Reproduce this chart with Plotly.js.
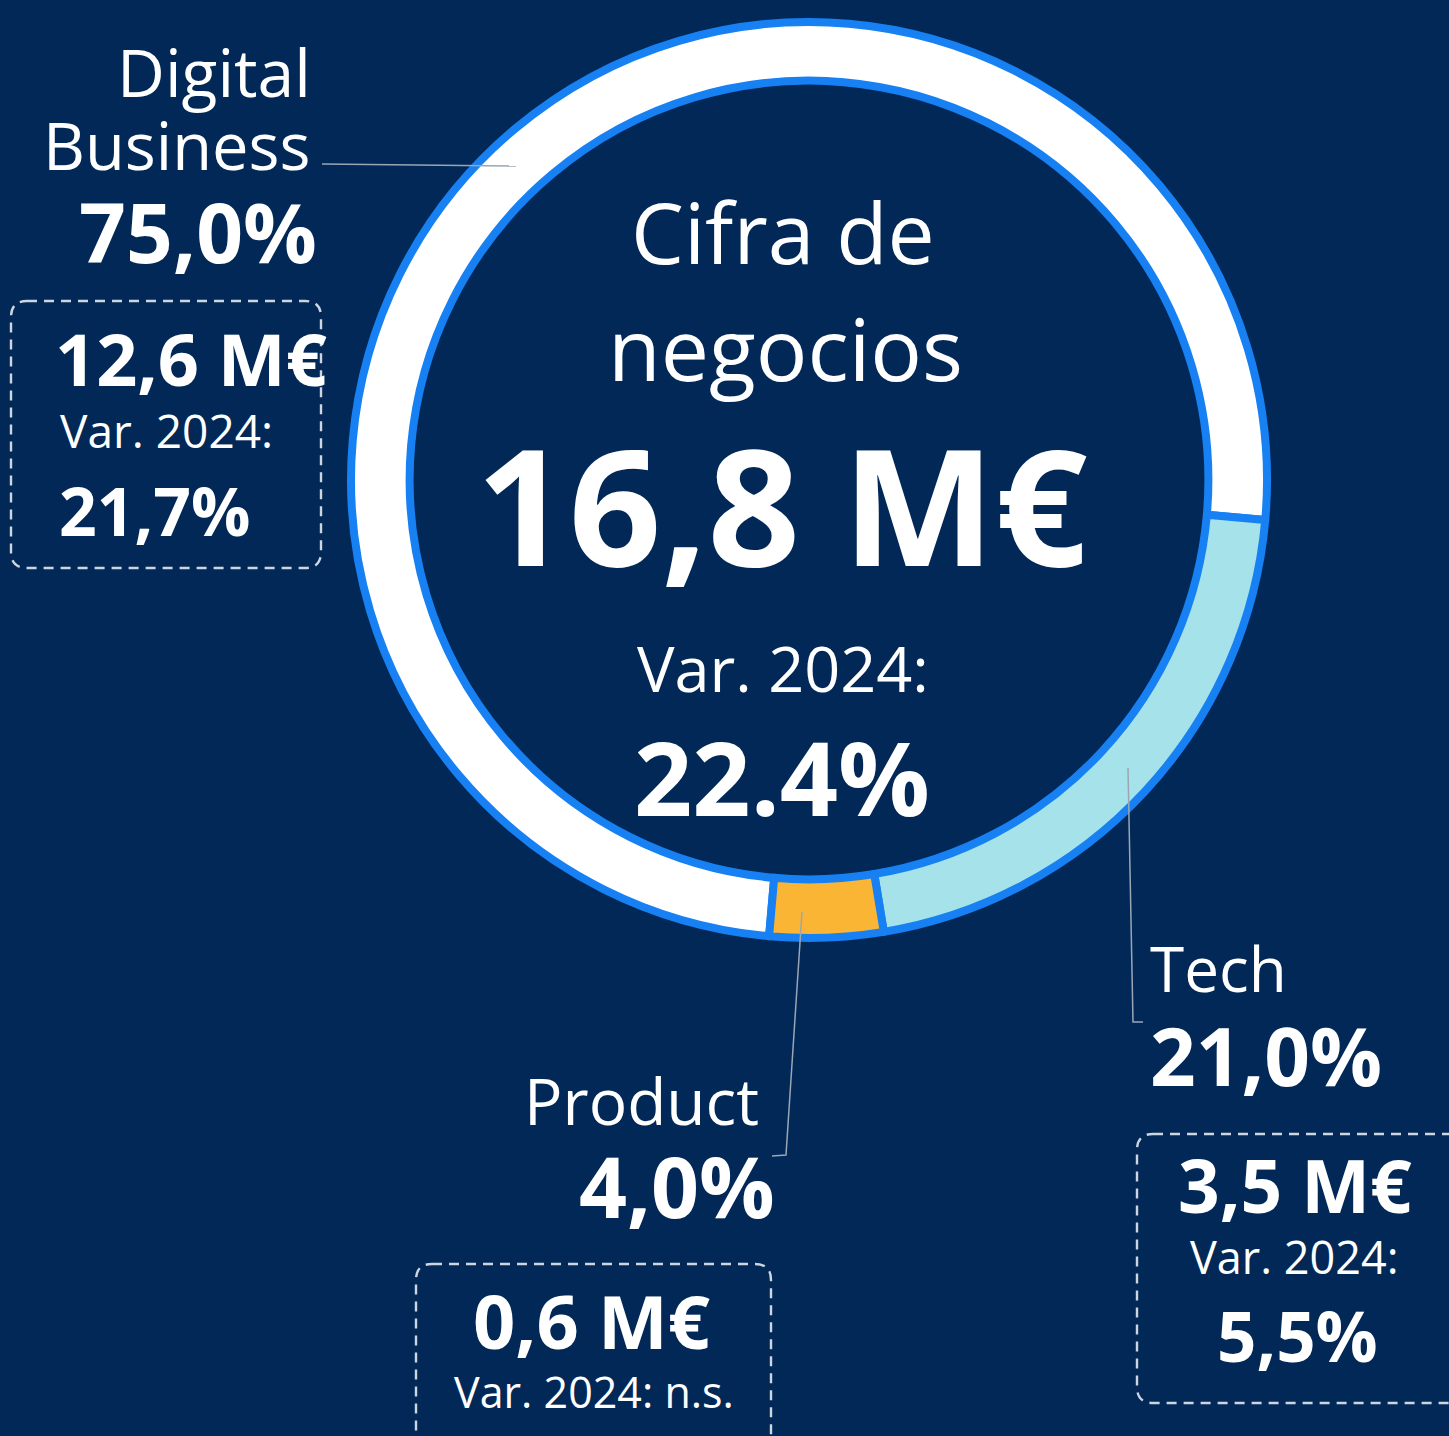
<!DOCTYPE html>
<html>
<head>
<meta charset="utf-8">
<script src="https://cdn.plot.ly/plotly-3.0.1.min.js"></script>
<style>
html,body{margin:0;padding:0;background:#012856;overflow:hidden;}
#chart{width:1449px;height:1436px;}
</style>
</head>
<body>
<div id="chart"></div>
<script>
// ---- data ----
const categories = ['Digital Business', 'Tech', 'Product'];
const shares = [75.0, 21.0, 4.0];          // % of total revenue
const revenue = [12.6, 3.5, 0.6];          // M€
const variation = ['21,7%', '5,5%', 'n.s.']; // Var. 2024
const totalTitle = ['Cifra de', 'negocios'];
const totalRevenue = 16.8;                 // M€
const totalVariation = '22.4%';

// ---- styles ----
const W = 1449, H = 1436;
const BG = '#012856';
const RING_LINE = '#1780f3';
const sliceColors = ['#ffffff', '#a6e2ea', '#fbb534'];
const FONT = 'Open Sans, Noto Sans, sans-serif';
const WHITE = '#ffffff';
const GUIDE = '#9aa6b6';
const BOXLINE = '#cdd5e0';

const fmt = v => v.toFixed(1).replace('.', ',');

function px(x) { return x / W; }
function py(y) { return 1 - y / H; }

// text placed by cap top & baseline (pixel coords)
function txt(text, x, capTop, base, size, bold, anchor) {
  const mid = (capTop + base) / 2 - 0.031 * size;
  return {
    text: text, xref: 'paper', yref: 'paper',
    x: px(x), y: py(mid), xanchor: anchor || 'center', yanchor: 'middle',
    showarrow: false, borderpad: 0,
    font: {family: FONT, size: size, color: WHITE, weight: bold ? 700 : 400}
  };
}

function roundRect(x0, y0, x1, y1, r) {
  const P = (x, y) => px(x) + ',' + py(y);
  const d = 'M' + P(x0 + r, y0) + ' L' + P(x1 - r, y0) + ' Q' + P(x1, y0) + ' ' + P(x1, y0 + r) +
    ' L' + P(x1, y1 - r) + ' Q' + P(x1, y1) + ' ' + P(x1 - r, y1) +
    ' L' + P(x0 + r, y1) + ' Q' + P(x0, y1) + ' ' + P(x0, y1 - r) +
    ' L' + P(x0, y0 + r) + ' Q' + P(x0, y0) + ' ' + P(x0 + r, y0) + ' Z';
  return {type: 'path', xref: 'paper', yref: 'paper', path: d,
    line: {color: BOXLINE, width: 2.4, dash: '10px,7px'}, fillcolor: 'rgba(0,0,0,0)'};
}

function polyline(pts) {
  const d = pts.map((p, i) => (i ? 'L' : 'M') + px(p[0]) + ',' + py(p[1])).join(' ');
  return {type: 'path', xref: 'paper', yref: 'paper', path: d,
    line: {color: GUIDE, width: 1.5}};
}

// ring geometry (pixels)
const cx = 809, cy = 480, R = 458;

const trace = {
  type: 'pie',
  labels: categories,
  values: shares,
  sort: false,
  direction: 'clockwise',
  rotation: -175,
  hole: 0.872,
  textinfo: 'none',
  hoverinfo: 'none',
  showlegend: false,
  marker: {colors: sliceColors, line: {color: RING_LINE, width: 8}},
  domain: {x: [px(cx - R), px(cx + R)], y: [py(cy + R), py(cy - R)]}
};

const annotations = [
  // centre
  txt(totalTitle[0], 783, 205, 263, 84, false),
  txt(totalTitle[1], 785, 320, 380, 86, false),
  txt(fmt(totalRevenue) + ' M€', 782, 452, 565, 162, true),
  txt('Var. 2024:', 783, 647, 692, 63, false),
  txt(totalVariation, 782, 745, 815, 102, true),

  // Digital Business
  txt('Digital', 312, 50, 97, 66, false, 'right'),
  txt('Business', 312, 125, 170, 65, false, 'right'),
  txt(fmt(shares[0]) + '%', 318, 205, 262, 82, true, 'right'),
  txt(fmt(revenue[0]) + ' M€', 54, 335, 386, 72, true, 'left'),
  txt('Var. 2024:', 59, 415, 448, 46, false, 'left'),
  txt(variation[0], 58, 487, 537, 66, true, 'left'),

  // Tech
  txt('Tech', 1149, 948, 992, 62, false, 'left'),
  txt(fmt(shares[1]) + '%', 1149, 1028, 1085, 80, true, 'left'),
  txt(fmt(revenue[1]) + ' M€', 1295, 1162, 1212, 73, true),
  txt('Var. 2024:', 1294, 1242, 1274, 45, false),
  txt(variation[1], 1297, 1313, 1362, 69, true),

  // Product
  txt('Product', 760, 1080, 1125, 64, false, 'right'),
  txt(fmt(shares[2]) + '%', 776, 1160, 1217, 84, true, 'right'),
  txt(fmt(revenue[2]) + ' M€', 591, 1298, 1348, 74, true),
  txt('Var. 2024: ' + variation[2], 594, 1378, 1408, 43, false)
];

const shapes = [
  roundRect(11, 301, 321, 568, 16),
  roundRect(416, 1264, 771, 1460, 16),
  roundRect(1137, 1134, 1470, 1403, 16),
  polyline([[322, 164], [516, 166]]),
  polyline([[1128, 768], [1133, 1022], [1143, 1022]]),
  polyline([[802, 912], [786, 1155], [772, 1156]])
];

const layout = {
  width: W, height: H,
  margin: {l: 0, r: 0, t: 0, b: 0, pad: 0},
  paper_bgcolor: BG, plot_bgcolor: BG,
  showlegend: false,
  annotations: annotations,
  shapes: shapes
};

Plotly.newPlot('chart', [trace], layout, {staticPlot: true, displayModeBar: false});
</script>
</body>
</html>
